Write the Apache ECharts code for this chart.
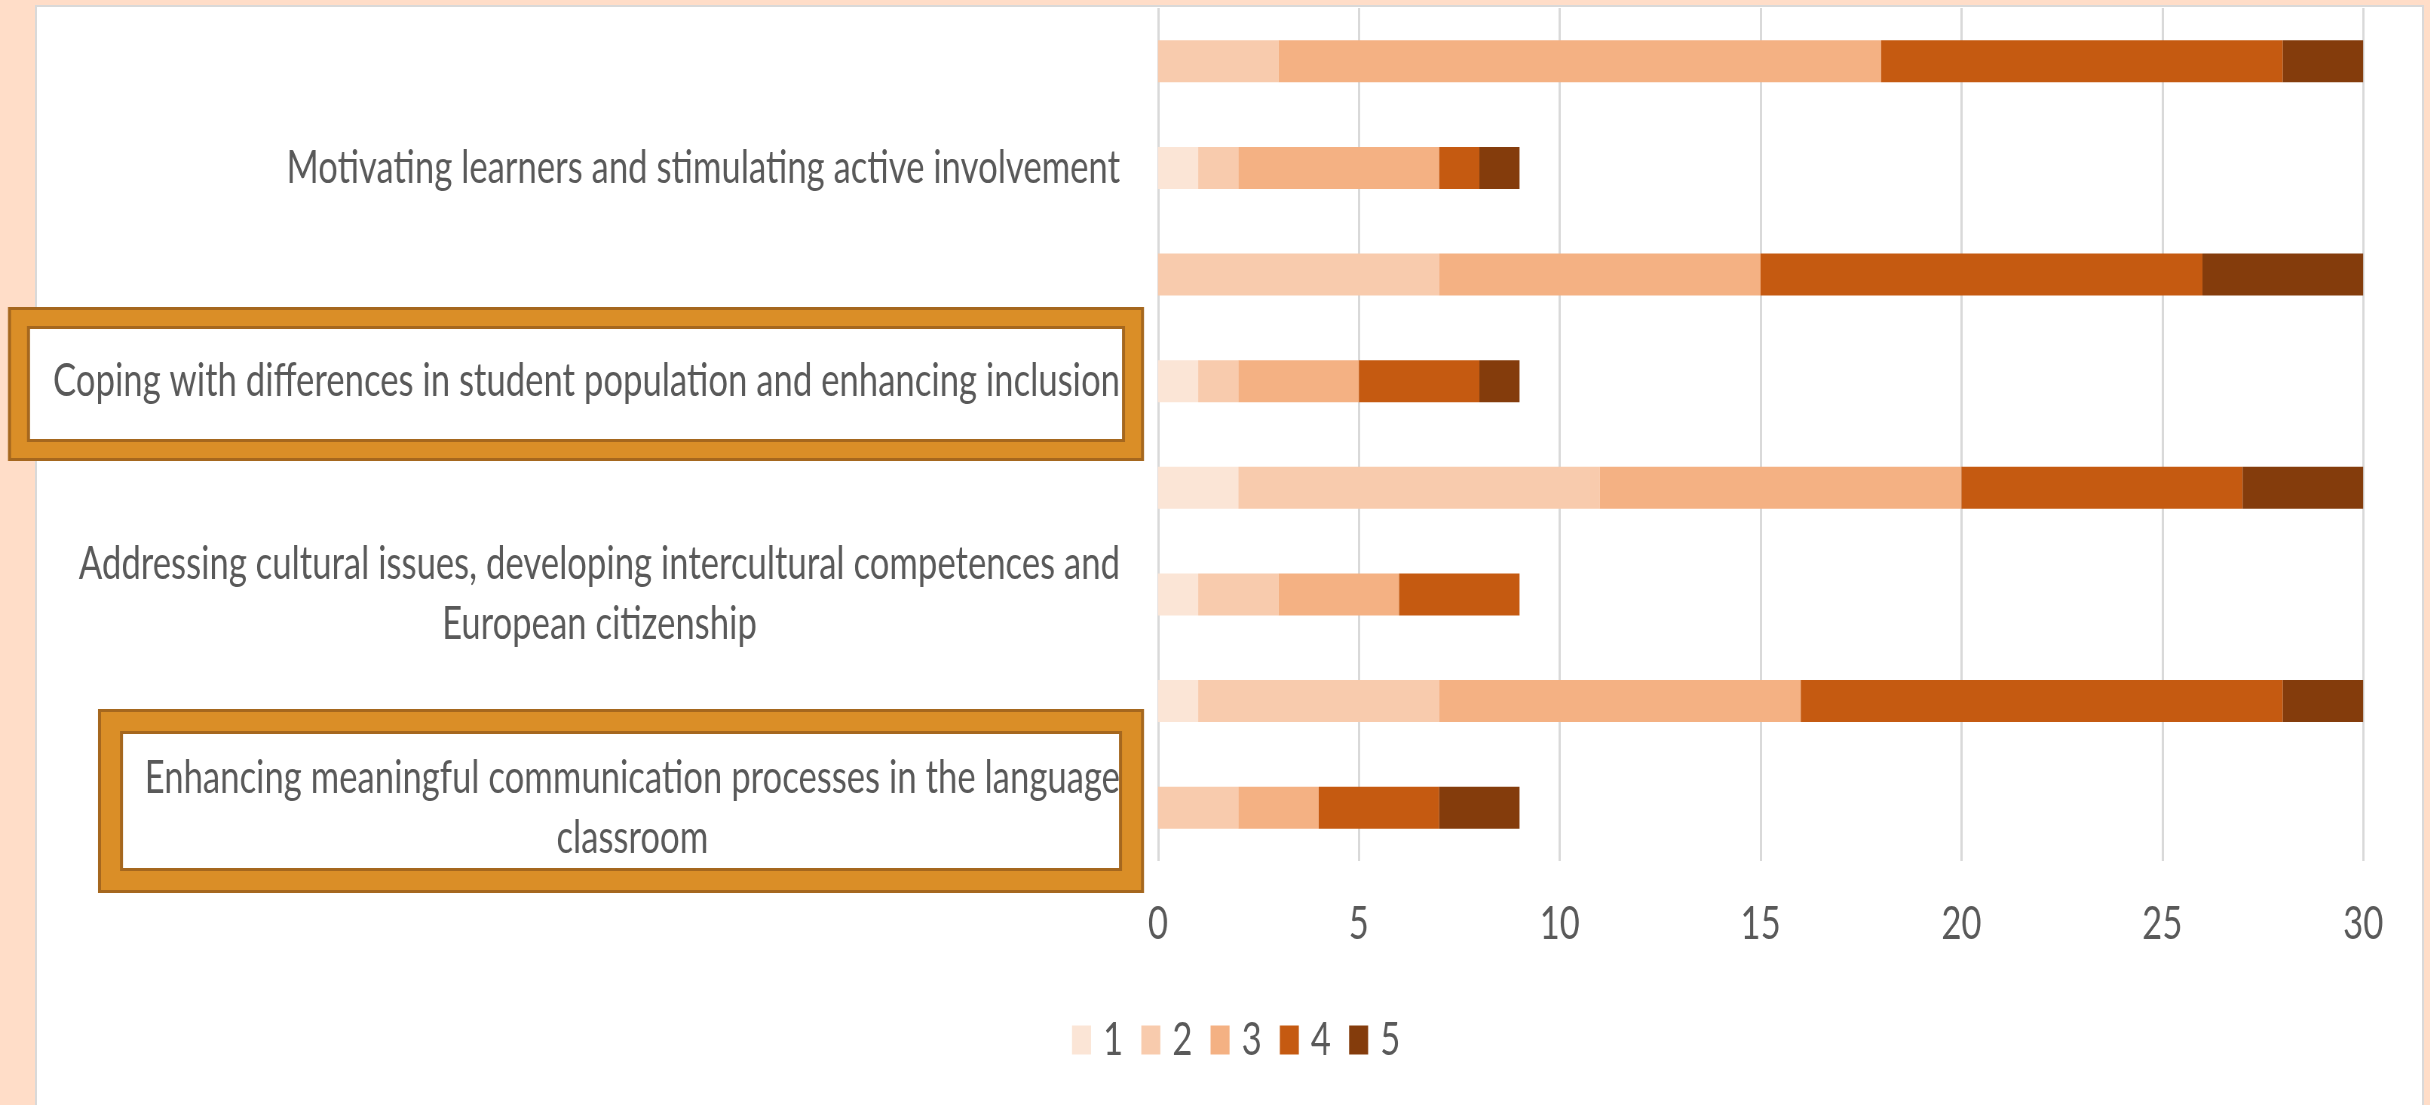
<!DOCTYPE html>
<html>
<head>
<meta charset="utf-8">
<script src="https://cdn.jsdelivr.net/npm/echarts@6/dist/echarts.min.js"></script>
<style>
  html, body { margin: 0; padding: 0; background: #FFDDC8; overflow: hidden; }
  #panel { position: absolute; left: 35px; top: 5px; width: 2385px; height: 1110px; background: #fff; border: 2px solid #D9D9D9; }
  #chart { position: absolute; left: 0; top: 0; height: 1105px; transform-origin: 0 0; }
</style>
</head>
<body>
<div id="panel"></div>
<div id="chart"></div>
<script>
// the source picture is squeezed sideways, so the chart is drawn wider and scaled back
var SX = 0.754;
var W = 2430;

// bottom -> top, the unnamed rows have no label in the original
var categories = [
  'Enhancing meaningful communication processes in the language\nclassroom',
  '',
  'Addressing cultural issues, developing intercultural competences and\nEuropean citizenship',
  '',
  'Coping with differences in student population and enhancing inclusion',
  '',
  'Motivating learners and stimulating active involvement',
  ''
];
var legendNames = ['1', '2', '3', '4', '5'];
var colors = ['#FBE5D6', '#F8CBAD', '#F4B183', '#C55A11', '#843C0C'];

var s1 = [0, 1, 1, 2, 1, 0, 1, 0];
var s2 = [2, 6, 2, 9, 1, 7, 1, 3];
var s3 = [2, 9, 3, 9, 3, 8, 5, 15];
var s4 = [3, 12, 3, 7, 3, 11, 1, 10];
var s5 = [2, 2, 0, 3, 1, 4, 1, 2];

var xTicks = [0, 5, 10, 15, 20, 25, 30];

var el = document.getElementById('chart');
el.style.width = (W / SX) + 'px';
el.style.transform = 'scaleX(' + SX + ')';
var chart = echarts.init(el);

// page px -> chart px (horizontal only)
function px(v) { return v / SX; }

var FONT = 'Lato';
var TEXT = '#595959';
var DARK = '#A5671E';
var ORANGE = '#DA8E27';

// highlight frame drawn around a label: dark edge, orange band, dark edge, white inside
function frame(l, t, r, b, th) {
  var e = 3;
  var rects = [
    [l, t, r, b, DARK],
    [l + e, t + e, r - e, b - e, ORANGE],
    [l + th - e, t + th - e, r - th + e, b - th + e, DARK],
    [l + th, t + th, r - th, b - th, '#fff']
  ];
  return rects.map(function (q) {
    return {
      type: 'rect', z: -10, silent: true,
      shape: { x: px(q[0]), y: q[1], width: px(q[2] - q[0]), height: q[3] - q[1] },
      style: { fill: q[4] }
    };
  });
}

var seriesData = [s1, s2, s3, s4, s5];

var option = {
  animation: false,
  color: colors,
  grid: {
    left: px(1158),
    right: px(W - 2363),
    top: 8,
    bottom: 1105 - 861,
    containLabel: false
  },
  legend: {
    data: legendNames,
    left: px(1072),
    top: 1017,
    padding: 0,
    icon: 'rect',
    itemWidth: px(19),
    itemHeight: 29,
    itemGap: 24,
    textStyle: { color: TEXT, fontSize: 46, fontFamily: FONT, padding: [0, 0, 0, 11] }
  },
  xAxis: {
    type: 'value',
    min: xTicks[0],
    max: xTicks[xTicks.length - 1],
    interval: 5,
    axisLine: { show: false },
    axisTick: { show: false },
    splitLine: { show: true, lineStyle: { color: '#D9D9D9', width: 3 } },
    axisLabel: { color: TEXT, fontSize: 46, fontFamily: FONT, margin: 40 }
  },
  yAxis: {
    type: 'category',
    data: categories,
    axisLine: { show: false },
    axisTick: { show: false },
    splitLine: { show: false },
    axisLabel: {
      interval: 1,
      margin: px(38),
      color: TEXT,
      fontSize: 46,
      fontFamily: FONT,
      lineHeight: 60,
      formatter: function (v) {
        return v.split('\n').map(function (l) { return '{c|' + l + '}'; }).join('\n');
      },
      rich: {
        c: { align: 'center', color: TEXT, fontSize: 46, fontFamily: FONT, lineHeight: 60 }
      }
    }
  },
  graphic: frame(8, 307, 1144, 461, 22).concat(frame(98, 709, 1144, 893, 25)),
  series: seriesData.map(function (d, i) {
    return {
      name: legendNames[i],
      type: 'bar',
      stack: 'total',
      barWidth: 42,
      data: d,
      itemStyle: { color: colors[i] }
    };
  })
};

chart.setOption(option);
</script>
</body>
</html>
